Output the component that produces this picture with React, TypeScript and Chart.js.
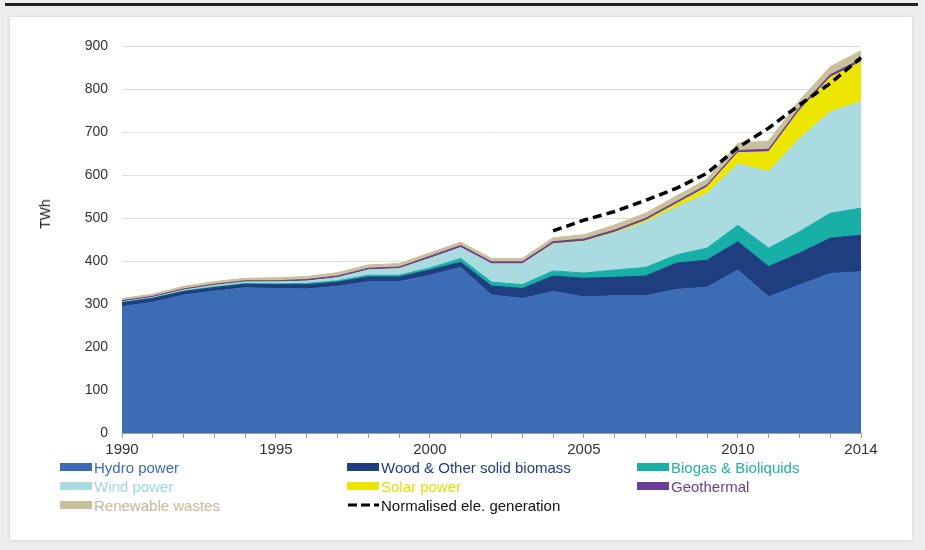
import React, { useEffect, useRef } from "react";
import { Chart, registerables } from "chart.js";

Chart.register(...registerables);

const years = [
  "1990", "1991", "1992", "1993", "1994", "1995", "1996", "1997", "1998", "1999",
  "2000", "2001", "2002", "2003", "2004", "2005", "2006", "2007", "2008", "2009",
  "2010", "2011", "2012", "2013", "2014",
];
const labeledYears = ["1990", "1995", "2000", "2005", "2010", "2014"];

const hydro = [294, 304, 321, 330, 338, 336, 335, 341, 352, 352, 367, 385, 321, 313, 329, 317, 319, 319, 334, 339, 379, 317, 344, 371, 375];
const wood = [9, 9, 8, 8, 8, 9, 10, 10, 11, 11, 12, 12, 21, 23, 36, 43, 43, 46, 61, 63, 66, 70, 74, 82, 85];
const biogas = [1, 1, 1, 2, 2, 2, 3, 3, 4, 4, 5, 9, 9, 9, 12, 12, 17, 20, 19, 28, 38, 43, 50, 58, 63];
const wind = [1, 1, 2, 3, 3, 4, 5, 7, 12, 15, 22, 25, 42, 48, 62, 73, 86, 105, 111, 127, 143, 178, 217, 236, 248];
const solar = [0, 0, 0, 0, 0, 0, 0, 0, 0, 0, 0, 0, 0, 0, 1, 1, 2, 4, 8, 15, 26, 46, 65, 80, 92];
const geothermal = [3, 3, 3, 3, 3, 3, 4, 4, 4, 4, 5, 5, 5, 5, 5, 5, 5, 5, 5, 5, 5, 6, 6, 6, 6];
const wastes = [5, 5, 6, 6, 6, 7, 7, 8, 8, 8, 8, 8, 8, 8, 9, 10, 12, 12, 13, 13, 17, 19, 17, 19, 20];
const normalised = [null, null, null, null, null, null, null, null, null, null, null, null, null, null,
  470, 495, 515, 541, 569, 604, 664, 709, 763, 813, 873];

const FONT = "Arial, 'Liberation Sans', sans-serif";

const series = [
  { label: "Hydro power", data: hydro, color: "#3d6cb6" },
  { label: "Wood & Other solid biomass", data: wood, color: "#1f3e80" },
  { label: "Biogas & Bioliquids", data: biogas, color: "#18b0a6" },
  { label: "Wind power", data: wind, color: "#aadbe1" },
  { label: "Solar power", data: solar, color: "#ede600" },
  { label: "Geothermal", data: geothermal, color: "#6a3d9c" },
  { label: "Renewable wastes", data: wastes, color: "#c9c19c" },
];

const legendItems = [
  { label: "Hydro power", color: "#3d6cb6", text: "#3d6cb6", col: 0, row: 0 },
  { label: "Wood & Other solid biomass", color: "#1f3e80", text: "#1f3e80", col: 1, row: 0 },
  { label: "Biogas & Bioliquids", color: "#18b0a6", text: "#22b0a6", col: 2, row: 0 },
  { label: "Wind power", color: "#aadbe1", text: "#a6d6dd", col: 0, row: 1 },
  { label: "Solar power", color: "#ede600", text: "#e6dd00", col: 1, row: 1 },
  { label: "Geothermal", color: "#6a3d9c", text: "#6a3d9c", col: 2, row: 1 },
  { label: "Renewable wastes", color: "#c9c19c", text: "#c4bc98", col: 0, row: 2 },
];

const colX = [60, 347, 637];
const rowY = [458, 477, 496];

export default function App() {
  const ref = useRef<HTMLCanvasElement>(null);

  useEffect(() => {
    if (!ref.current) return;
    const datasets: any[] = series.map((s, i) => ({
      label: s.label,
      data: s.data,
      backgroundColor: s.color,
      borderColor: s.color,
      borderWidth: 1,
      pointRadius: 0,
      fill: i === 0 ? "origin" : "-1",
      stack: "a",
      order: 1,
      tension: 0,
    }));
    datasets.push({
      label: "Normalised ele. generation",
      data: normalised,
      borderColor: "#000000",
      backgroundColor: "#000000",
      borderWidth: 3.5,
      borderDash: [9, 5],
      pointRadius: 0,
      fill: false,
      stack: "b",
      order: 0,
      tension: 0,
    });

    const chart = new Chart(ref.current, {
      type: "line",
      data: { labels: years, datasets },
      options: {
        animation: false,
        responsive: false,
        layout: { padding: { top: 46, right: 64, left: 0, bottom: 0 } },
        plugins: { legend: { display: false }, tooltip: { enabled: false } },
        scales: {
          x: {
            type: "category",
            offset: false,
            grid: { display: true, drawOnChartArea: false, drawTicks: true, tickLength: 5, color: "#a0a0a0" },
            border: { display: true, color: "#a0a0a0", width: 1 },
            ticks: {
              autoSkip: false,
              maxRotation: 0,
              minRotation: 0,
              padding: 3,
              color: "#333333",
              font: { family: FONT, size: 15 },
              callback: (_v: any, i: number) => (labeledYears.includes(years[i]) ? years[i] : ""),
            },
            afterFit: (s: any) => {
              s.height = 27;
              s.paddingLeft = 0;
              s.paddingRight = 0;
            },
          },
          y: {
            stacked: true,
            min: 0,
            max: 900,
            ticks: { stepSize: 100, padding: 14, color: "#333333", font: { family: FONT, size: 14 } },
            grid: { color: "#dedede", drawTicks: false },
            border: { display: false },
            afterFit: (s: any) => {
              s.width = 122;
              s.paddingTop = 0;
              s.paddingBottom = 0;
            },
          },
        },
      } as any,
    });
    return () => chart.destroy();
  }, []);

  return (
    <div style={{ position: "absolute", left: 0, top: 0, width: 925, height: 550, background: "#ededed", overflow: "hidden", fontFamily: FONT }}>
      <div style={{ position: "absolute", left: 5, top: 3, width: 913, height: 3, background: "#222222" }} />
      <div style={{ position: "absolute", left: 10, top: 17, width: 902, height: 523, background: "#ffffff", boxShadow: "0 0 4px rgba(0,0,0,0.12)" }} />
      <canvas ref={ref} width={925} height={460} style={{ position: "absolute", left: 0, top: 0, width: 925, height: 460 }} />
      <div style={{ position: "absolute", left: 45, top: 214, transform: "translate(-50%, -50%) rotate(-90deg)", fontSize: 14, color: "#222", whiteSpace: "nowrap" }}>TWh</div>
      {legendItems.map((it) => (
        <div key={it.label} style={{ position: "absolute", left: colX[it.col], top: rowY[it.row], height: 18, display: "flex", alignItems: "center", whiteSpace: "nowrap" }}>
          <div style={{ width: 32, height: 8, background: it.color, marginRight: 2 }} />
          <span style={{ fontSize: 15, color: it.text }}>{it.label}</span>
        </div>
      ))}
      <div style={{ position: "absolute", left: colX[1], top: rowY[2], height: 18, display: "flex", alignItems: "center", whiteSpace: "nowrap" }}>
        <svg width={32} height={8} style={{ marginRight: 2 }}>
          <line x1={1} y1={4} x2={32} y2={4} stroke="#000" strokeWidth={3} strokeDasharray="9,4" />
        </svg>
        <span style={{ fontSize: 15, color: "#111" }}>Normalised ele. generation</span>
      </div>
    </div>
  );
}
